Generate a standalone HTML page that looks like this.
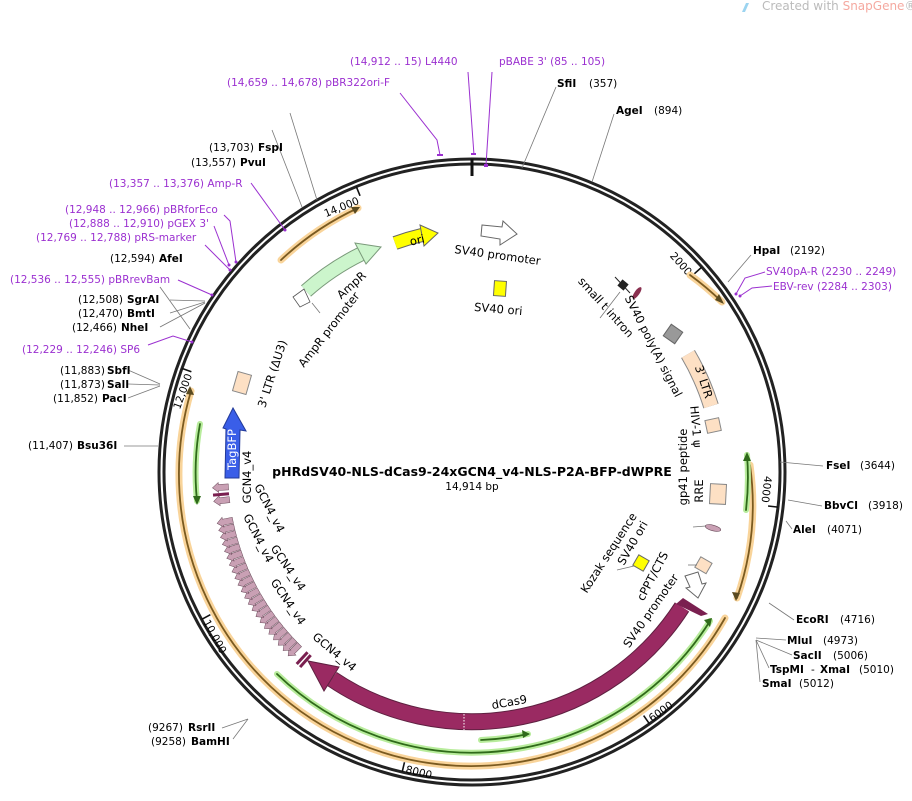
<!DOCTYPE html>
<html><head><meta charset="utf-8"><style>
body{margin:0;background:#fff}
svg{display:block;font-family:"DejaVu Sans","Liberation Sans",sans-serif}
.s{font-size:10.5px;fill:#000}
.b{font-weight:bold}
.p{font-size:10.5px;fill:#9b30d0}
.i{font-size:11.5px;fill:#000}
.gl{stroke:#777;stroke-width:0.8;fill:none}
.pl{stroke:#9b30d0;stroke-width:1;fill:none}
</style></head><body>
<svg width="912" height="801" viewBox="0 0 912 801">
<text x="762" y="10" style="font-size:12px;fill:#bbb">Created with <tspan fill="#f5a9a0">SnapGene</tspan>®</text>
<path d="M742 12 l4 -9 l3 0 l-4 9z" fill="#9cd4f0"/>

<circle cx="472" cy="472" r="313" fill="none" stroke="#222" stroke-width="3"/>
<circle cx="472" cy="472" r="308" fill="none" stroke="#222" stroke-width="3"/>
<line x1="472" y1="159" x2="472" y2="176" stroke="#111" stroke-width="3"/>

<g stroke="#111" stroke-width="1.6">
<line x1="472" y1="164" x2="472" y2="174" transform="rotate(48.28 472 472)"/>
<line x1="472" y1="164" x2="472" y2="174" transform="rotate(96.55 472 472)"/>
<line x1="472" y1="164" x2="472" y2="174" transform="rotate(144.83 472 472)"/>
<line x1="472" y1="164" x2="472" y2="174" transform="rotate(193.1 472 472)"/>
<line x1="472" y1="164" x2="472" y2="174" transform="rotate(241.4 472 472)"/>
<line x1="472" y1="164" x2="472" y2="174" transform="rotate(289.66 472 472)"/>
<line x1="472" y1="164" x2="472" y2="174" transform="rotate(337.93 472 472)"/>
</g>
<g class="s">
<text x="469" y="181" text-anchor="end" transform="rotate(48.28 472 472)">2000</text>
<text x="469" y="181" text-anchor="end" transform="rotate(96.55 472 472)">4000</text>
<text x="475" y="780" transform="rotate(-35.17 472 472)">6000</text>
<text x="475" y="780" transform="rotate(13.1 472 472)">8000</text>
<text x="475" y="780" transform="rotate(61.4 472 472)">10,000</text>
<text x="469" y="176" text-anchor="end" transform="rotate(-70.34 472 472)">12,000</text>
<text x="469" y="181" text-anchor="end" transform="rotate(-22.07 472 472)">14,000</text>
</g>

<g fill="none" stroke-linecap="round">
<g stroke="#f9d49a" stroke-width="7">
<path d="M281 260 A290 290 0 0 1 358 208"/>
<path d="M690 275 A290 290 0 0 1 722 302"/>
<path d="M750 465 A285 285 0 0 1 737 598"/>
<path d="M725 618 A292 292 0 0 1 191 391"/>
</g>
<g stroke="#7a5a20" stroke-width="1.8">
<path d="M281 260 A290 290 0 0 1 358 208"/>
<path d="M690 275 A290 290 0 0 1 722 302"/>
<path d="M750 465 A285 285 0 0 1 737 598"/>
<path d="M725 618 A292 292 0 0 1 191 391"/>
</g>
<g stroke="#b8ec9c" stroke-width="6">
<path d="M277 674 A281 281 0 0 0 710 621"/>
<path d="M481 740 A268 268 0 0 0 528 734"/>
<path d="M200 424 A276 276 0 0 0 197 501"/>
<path d="M746 510 A276 276 0 0 0 747 455"/>
</g>
<g stroke="#2f6a1a" stroke-width="1.8">
<path d="M277 674 A281 281 0 0 0 710 621"/>
<path d="M481 740 A268 268 0 0 0 528 734"/>
<path d="M200 424 A276 276 0 0 0 197 501"/>
<path d="M746 510 A276 276 0 0 0 747 455"/>
</g>
</g>
<g fill="#5a4a20">
<polygon points="360,207 351,207 355,214"/>
<polygon points="724,304 715,300 719,294"/>
<polygon points="736,601 732,592 740,593"/>
<polygon points="190,386 186,394 194,395"/>
</g>
<g fill="#2f6a1a">
<polygon points="712,618 704,620 710,627"/>
<polygon points="530,734 522,730 523,738"/>
<polygon points="197,505 193,496 201,496"/>
<polygon points="747,452 743,461 751,461"/>
</g>

<path d="M682 607 A250 250 0 0 1 332 679" fill="none" stroke="#5e2040" stroke-width="17"/>
<path d="M682 607 A250 250 0 0 1 332 679" fill="none" stroke="#9a2a62" stroke-width="15"/>
<polygon points="339,667 324,691 308,661" fill="#9a2a62" stroke="#5e2040" stroke-width="1"/>
<line x1="464" y1="714" x2="464" y2="730" stroke="#fff" stroke-dasharray="1.5,1.5"/>
<line x1="678" y1="600" x2="690" y2="610" stroke="#fff" stroke-dasharray="1.5,1.5"/>
<polygon points="676,604 683,598 708,614 701,616" fill="#7a2050"/>

<path d="M306 291 A245 245 0 0 1 361 254" fill="none" stroke="#7a9a7a" stroke-width="15"/>
<path d="M306 291 A245 245 0 0 1 361 254" fill="none" stroke="#ccf5cc" stroke-width="13"/>
<polygon points="366,264 355,243 381,247" fill="#ccf5cc" stroke="#7a9a7a" stroke-width="1"/>
<polygon points="293,297 304,289 310,302 300,307" fill="#fff" stroke="#555" stroke-width="0.8"/>
<path d="M395 243 A242 242 0 0 1 422 235" fill="none" stroke="#666" stroke-width="14"/>
<path d="M395 243 A242 242 0 0 1 422 235" fill="none" stroke="#ffff00" stroke-width="12"/>
<polygon points="424,246 420,225 438,233" fill="#ffff00" stroke="#666" stroke-width="1"/>
<polygon points="482,225 502,227 503,221 517,234 500,245 500,239 481,236" fill="#fff" stroke="#666" stroke-width="1"/>
<rect x="494" y="281" width="12" height="15" fill="#ffff00" stroke="#666" transform="rotate(4 500 288)"/>
<rect x="619" y="281" width="8" height="8" fill="#222" transform="rotate(40 623 285)"/>
<line x1="615" y1="277" x2="630" y2="293" stroke="#222"/>
<ellipse cx="637" cy="293" rx="7" ry="2.5" fill="#8a3050" transform="rotate(-55 637 293)"/>
<rect x="666" y="327" width="14" height="14" fill="#999" stroke="#666" transform="rotate(35 673 334)"/>
<path d="M688 354 A247 247 0 0 1 711 406" fill="none" stroke="#888" stroke-width="16"/>
<path d="M688 354 A247 247 0 0 1 711 406" fill="none" stroke="#fde0c4" stroke-width="14"/>
<rect x="706" y="419" width="14" height="13" fill="#fde0c4" stroke="#888" transform="rotate(-12 713 425)"/>
<rect x="710" y="484" width="16" height="20" fill="#fde0c4" stroke="#888" transform="rotate(3 717 494)"/>
<ellipse cx="713" cy="528" rx="8" ry="2.8" fill="#c9a0b4" stroke="#6a4a5a" stroke-width="0.6" transform="rotate(15 713 528)"/>
<rect x="635" y="557" width="12" height="12" fill="#ffff00" stroke="#666" transform="rotate(30 641 563)"/>
<rect x="697" y="559" width="13" height="12" fill="#fde0c4" stroke="#888" transform="rotate(30 703 565)"/>
<polygon points="685,576 698,572 702,584 706,583 698,598 686,588 690,587" fill="#fff" stroke="#666" stroke-width="1"/>

<polygon points="225,478 239,478 240,430 246,431 233,408 223,428 226,429" fill="#3a5ee8" stroke="#223a99" stroke-width="1"/>
<text class="i" x="0" y="0" style="fill:#fff" transform="translate(236,470) rotate(-90)">TagBFP</text>
<rect x="235" y="373" width="14" height="20" fill="#fde0c4" stroke="#888" transform="rotate(16 242 383)"/>

<g fill="#c9a0b4" stroke="#6a4a5a" stroke-width="0.5">
<polygon points="469,228 475,228 475,218 477,218 472,212 467,218 469,218" transform="rotate(225 472 472)"/>
<polygon points="469,228 475,228 475,218 477,218 472,212 467,218 469,218" transform="rotate(226.6 472 472)"/>
<polygon points="469,228 475,228 475,218 477,218 472,212 467,218 469,218" transform="rotate(228.2 472 472)"/>
<polygon points="469,228 475,228 475,218 477,218 472,212 467,218 469,218" transform="rotate(229.8 472 472)"/>
<polygon points="469,228 475,228 475,218 477,218 472,212 467,218 469,218" transform="rotate(231.4 472 472)"/>
<polygon points="469,228 475,228 475,218 477,218 472,212 467,218 469,218" transform="rotate(233 472 472)"/>
<polygon points="469,228 475,228 475,218 477,218 472,212 467,218 469,218" transform="rotate(234.6 472 472)"/>
<polygon points="469,228 475,228 475,218 477,218 472,212 467,218 469,218" transform="rotate(236.2 472 472)"/>
<polygon points="469,228 475,228 475,218 477,218 472,212 467,218 469,218" transform="rotate(237.8 472 472)"/>
<polygon points="469,228 475,228 475,218 477,218 472,212 467,218 469,218" transform="rotate(239.4 472 472)"/>
<polygon points="469,228 475,228 475,218 477,218 472,212 467,218 469,218" transform="rotate(241 472 472)"/>
<polygon points="469,228 475,228 475,218 477,218 472,212 467,218 469,218" transform="rotate(242.6 472 472)"/>
<polygon points="469,228 475,228 475,218 477,218 472,212 467,218 469,218" transform="rotate(244.2 472 472)"/>
<polygon points="469,228 475,228 475,218 477,218 472,212 467,218 469,218" transform="rotate(245.8 472 472)"/>
<polygon points="469,228 475,228 475,218 477,218 472,212 467,218 469,218" transform="rotate(247.4 472 472)"/>
<polygon points="469,228 475,228 475,218 477,218 472,212 467,218 469,218" transform="rotate(249 472 472)"/>
<polygon points="469,228 475,228 475,218 477,218 472,212 467,218 469,218" transform="rotate(250.6 472 472)"/>
<polygon points="469,228 475,228 475,218 477,218 472,212 467,218 469,218" transform="rotate(252.2 472 472)"/>
<polygon points="469,228 475,228 475,218 477,218 472,212 467,218 469,218" transform="rotate(253.8 472 472)"/>
<polygon points="469,228 475,228 475,218 477,218 472,212 467,218 469,218" transform="rotate(255.4 472 472)"/>
<polygon points="469,228 475,228 475,218 477,218 472,212 467,218 469,218" transform="rotate(257 472 472)"/>
<polygon points="469,228 475,228 475,218 477,218 472,212 467,218 469,218" transform="rotate(258.6 472 472)"/>
<polygon points="469,228 475,228 475,218 477,218 472,212 467,218 469,218" transform="rotate(263.5 472 472)"/>
<polygon points="469,228 475,228 475,218 477,218 472,212 467,218 469,218" transform="rotate(266.5 472 472)"/>
</g>
<g fill="#7a2050">
<rect x="470" y="212" width="3" height="16" transform="rotate(221.5 472 472)"/>
<rect x="470" y="212" width="3" height="16" transform="rotate(222.5 472 472)"/>
<rect x="470" y="212" width="3" height="16" transform="rotate(265 472 472)"/>
</g>

<text x="472" y="476" text-anchor="middle" style="font-size:12.5px;font-weight:bold">pHRdSV40-NLS-dCas9-24xGCN4_v4-NLS-P2A-BFP-dWPRE</text>
<text x="472" y="490" text-anchor="middle" class="s">14,914 bp</text>

<g class="i">
<text transform="translate(418,244) rotate(-13)" text-anchor="middle">ori</text>
<text transform="translate(497,259) rotate(8)" text-anchor="middle">SV40 promoter</text>
<text transform="translate(498,313) rotate(5)" text-anchor="middle">SV40 ori</text>
<text transform="translate(354,288) rotate(-42)" text-anchor="middle">AmpR</text>
<text transform="translate(332,332) rotate(-52)" text-anchor="middle">AmpR promoter</text>
<text transform="translate(276,375) rotate(-72)" text-anchor="middle">3' LTR (ΔU3)</text>
<text transform="translate(251,477) rotate(-90)" text-anchor="middle">GCN4_v4</text>
<text transform="translate(266,510) rotate(63)" text-anchor="middle">GCN4_v4</text>
<text transform="translate(255,540) rotate(63)" text-anchor="middle">GCN4_v4</text>
<text transform="translate(285,570) rotate(56)" text-anchor="middle">GCN4_v4</text>
<text transform="translate(285,604) rotate(56)" text-anchor="middle">GCN4_v4</text>
<text transform="translate(332,655) rotate(40)" text-anchor="middle">GCN4_v4</text>
<text transform="translate(603,310) rotate(48)" text-anchor="middle">small t intron</text>
<text transform="translate(650,348) rotate(63)" text-anchor="middle">SV40 poly(A) signal</text>
<text transform="translate(700,383) rotate(72)" text-anchor="middle">3' LTR</text>
<text transform="translate(692,427) rotate(85)" text-anchor="middle">HIV-1 ψ</text>
<text transform="translate(687,467) rotate(-90)" text-anchor="middle">gp41 peptide</text>
<text transform="translate(703,491) rotate(-90)" text-anchor="middle">RRE</text>
<text transform="translate(612,555) rotate(-57)" text-anchor="middle">Kozak sequence</text>
<text transform="translate(636,545) rotate(-60)" text-anchor="middle">SV40 ori</text>
<text transform="translate(656,578) rotate(-62)" text-anchor="middle">cPPT/CTS</text>
<text transform="translate(654,613) rotate(-55)" text-anchor="middle">SV40 promoter</text>
<text transform="translate(510,706) rotate(-10)" text-anchor="middle">dCas9</text>
</g>
<g class="gl">
<line x1="600" y1="318" x2="620" y2="292"/>
<line x1="693" y1="527" x2="706" y2="526"/>
<line x1="617" y1="570" x2="634" y2="566"/>
<line x1="688" y1="565" x2="697" y2="565"/>
<line x1="312" y1="303" x2="320" y2="313"/>
</g>

<g class="gl">
<path d="M522 168 L556 87"/>
<path d="M592 182 L614 114"/>
<path d="M728 282 L751 255"/>
<path d="M780 462 L823 466"/>
<path d="M788 500 L822 506"/>
<path d="M786 521 L792 529"/>
<path d="M769 603 L794 620"/>
<path d="M756 638 L786 640"/>
<path d="M756 640 L792 655"/>
<path d="M756 640 L769 668"/>
<path d="M756 640 L760 682"/>
<path d="M248 719 L222 728"/>
<path d="M248 719 L233 739"/>
<path d="M158 446 L124 446"/>
<path d="M160 384 L128 370"/>
<path d="M160 385 L128 384"/>
<path d="M160 386 L128 398"/>
<path d="M190 329 L160 287"/>
<path d="M205 301 L170 300"/>
<path d="M205 302 L170 313"/>
<path d="M205 303 L160 327"/>
<path d="M317 200 L290 113"/>
<path d="M302 207 L272 130"/>
</g>
<g class="s">
<text x="557" y="87" class="s b">SfiI</text><text x="589" y="87">(357)</text>
<text x="616" y="114" class="s b">AgeI</text><text x="654" y="114">(894)</text>
<text x="753" y="254" class="s b">HpaI</text><text x="790" y="254">(2192)</text>
<text x="826" y="469" class="s b">FseI</text><text x="860" y="469">(3644)</text>
<text x="824" y="509" class="s b">BbvCI</text><text x="868" y="509">(3918)</text>
<text x="793" y="533" class="s b">AleI</text><text x="827" y="533">(4071)</text>
<text x="796" y="623" class="s b">EcoRI</text><text x="840" y="623">(4716)</text>
<text x="787" y="644" class="s b">MluI</text><text x="823" y="644">(4973)</text>
<text x="793" y="659" class="s b">SacII</text><text x="833" y="659">(5006)</text>
<text x="770" y="673" class="s b">TspMI</text><text x="811" y="673">- </text><text x="820" y="673" class="s b">XmaI</text><text x="859" y="673">(5010)</text>
<text x="762" y="687" class="s b">SmaI</text><text x="799" y="687">(5012)</text>
<text x="148" y="731">(9267)</text><text x="188" y="731" class="s b">RsrII</text>
<text x="151" y="745">(9258)</text><text x="191" y="745" class="s b">BamHI</text>
<text x="28" y="449">(11,407)</text><text x="77" y="449" class="s b">Bsu36I</text>
<text x="60" y="374">(11,883)</text><text x="107" y="374" class="s b">SbfI</text>
<text x="60" y="388">(11,873)</text><text x="107" y="388" class="s b">SalI</text>
<text x="53" y="402">(11,852)</text><text x="102" y="402" class="s b">PacI</text>
<text x="72" y="331">(12,466)</text><text x="121" y="331" class="s b">NheI</text>
<text x="78" y="317">(12,470)</text><text x="127" y="317" class="s b">BmtI</text>
<text x="78" y="303">(12,508)</text><text x="127" y="303" class="s b">SgrAI</text>
<text x="110" y="262">(12,594)</text><text x="159" y="262" class="s b">AfeI</text>
<text x="191" y="166">(13,557)</text><text x="240" y="166" class="s b">PvuI</text>
<text x="209" y="151">(13,703)</text><text x="258" y="151" class="s b">FspI</text>
</g>
<g class="pl">
<path d="M440 155 L437 140 L400 93"/>
<path d="M474 155 L468 72"/>
<path d="M486 165 L492 72"/>
<path d="M736 294 L745 278 L765 272"/>
<path d="M740 296 L752 288 L772 286"/>
<path d="M285 230 L251 183"/>
<path d="M236 262 L230 221 L224 215"/>
<path d="M229 265 L214 226"/>
<path d="M230 270 L205 245"/>
<path d="M212 295 L178 280"/>
<path d="M192 342 L173 336 L148 345"/>
</g>
<g fill="#9b30d0">
<rect x="437" y="154" width="6" height="2"/><rect x="471" y="153" width="5" height="2"/><rect x="484" y="164" width="4" height="3"/>
<circle cx="736" cy="294" r="1.5"/><circle cx="740" cy="296" r="1.5"/><circle cx="285" cy="230" r="1.5"/>
<circle cx="236" cy="262" r="1.5"/><circle cx="229" cy="265" r="1.5"/><circle cx="230" cy="270" r="1.5"/><circle cx="212" cy="295" r="1.5"/><circle cx="192" cy="342" r="1.5"/>
</g>
<g class="p">
<text x="350" y="65">(14,912 .. 15)  L4440</text>
<text x="227" y="86">(14,659 .. 14,678)  pBR322ori-F</text>
<text x="499" y="65">pBABE 3'   (85 .. 105)</text>
<text x="766" y="275">SV40pA-R   (2230 .. 2249)</text>
<text x="773" y="290">EBV-rev   (2284 .. 2303)</text>
<text x="109" y="187">(13,357 .. 13,376)  Amp-R</text>
<text x="65" y="213">(12,948 .. 12,966)  pBRforEco</text>
<text x="69" y="227">(12,888 .. 12,910)  pGEX 3'</text>
<text x="36" y="241">(12,769 .. 12,788)  pRS-marker</text>
<text x="10" y="283">(12,536 .. 12,555)  pBRrevBam</text>
<text x="22" y="353">(12,229 .. 12,246)  SP6</text>
</g>
</svg>
</body></html>
